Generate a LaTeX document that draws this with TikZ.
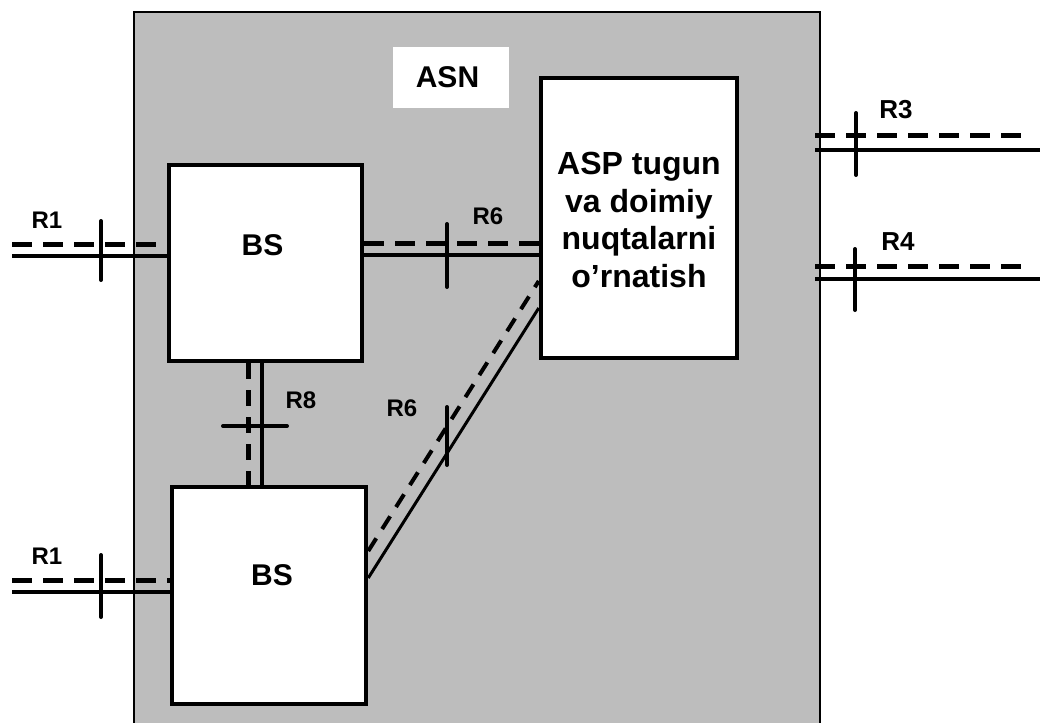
\documentclass[tikz,border=0pt]{standalone}
\usepackage{fontspec}
\setmainfont{Liberation Sans}
\definecolor{asngray}{RGB}{189,189,189}
\begin{document}
\begin{tikzpicture}[x=1pt,y=-1pt,
  box/.style={draw, line width=4.5pt, fill=white, inner sep=0pt},
  bigtxt/.style={font=\bfseries\fontsize{30}{34}\selectfont, inner sep=0pt},
  asptxt/.style={font=\bfseries\fontsize{32}{37.5}\selectfont, inner sep=0pt, align=center},
  rlbl/.style={font=\bfseries\fontsize{24}{28}\selectfont, inner sep=0pt},
  rlblb/.style={font=\bfseries\fontsize{26}{30}\selectfont, inner sep=0pt},
  solidln/.style={line width=3.5pt},
  dashln/.style={line width=5pt, dash pattern=on 20pt off 11pt},
  thinsolid/.style={line width=3pt},
  thindash/.style={line width=4pt, dash pattern=on 15pt off 11pt},
  tickln/.style={line width=4pt, line cap=round}]
\useasboundingbox (0,0) rectangle (1040,722);
% ASN area
\path[fill=asngray, draw=black, line width=2pt] (134,12) rectangle (820,740);
\node[fill=white, minimum width=116pt, minimum height=61pt, inner sep=0pt] (asnbox) at (451,77.5) {};
\node[bigtxt] (asntxt) at (447.5,77) {ASN};
% boxes
\node[box, minimum width=193pt, minimum height=196pt] (bs1) at (265.5,263) {};
\node[box, minimum width=194pt, minimum height=217pt] (bs2) at (269,595.5) {};
\node[box, minimum width=196pt, minimum height=280pt] (asp) at (639,218) {};
\node[bigtxt] (bs1txt) at (262.5,245) {BS};
\node[bigtxt] (bs2txt) at (272,575) {BS};
\node[asptxt] (asptxt) at (639,220) {ASP tugun\\va doimiy\\nuqtalarni\\o’rnatish};
% R1 upper
\coordinate (r1ad) at (12,244);
\coordinate (r1as) at (12,256);
\draw[dashln] (r1ad) -- (r1ad -| bs1.west);
\draw[solidln] (r1as) -- (r1as -| bs1.west);
\draw[tickln] (101,221) -- (101,280);
\node[rlbl] (r1alb) at (47,220) {R1};
% R1 lower
\coordinate (r1bd) at (12,580);
\coordinate (r1bs) at (12,592);
\draw[dashln] (r1bd) -- (r1bd -| bs2.west);
\draw[solidln] (r1bs) -- (r1bs -| bs2.west);
\draw[tickln] (101,555) -- (101,617);
\node[rlbl] (r1blb) at (47,556) {R1};
% R6 horizontal
\coordinate (r6d) at (bs1.east |- 0,243);
\coordinate (r6s) at (bs1.east |- 0,255);
\draw[dashln] (r6d) -- (r6d -| asp.west);
\draw[solidln] (r6s) -- (r6s -| asp.west);
\draw[tickln] (447,224) -- (447,287);
\node[rlbl] (r6hlb) at (488,216) {R6};
% R8 vertical
\coordinate (r8d) at (bs1.south -| 248,0);
\coordinate (r8s) at (bs1.south -| 262,0);
\draw[dashln, dash pattern=on 16pt off 11pt] (r8d) -- (r8d |- bs2.north);
\draw[solidln] (r8s) -- (r8s |- bs2.north);
\draw[tickln] (223,426) -- (287,426);
\node[rlbl] (r8lb) at (301,400) {R8};
% R6 diagonal
\coordinate (dgs1) at (bs2.east |- 0,578);
\coordinate (dgs2) at (asp.west |- 0,308);
\coordinate (dgd1) at (bs2.east |- 0,551);
\coordinate (dgd2) at (asp.west |- 0,281);
\draw[thindash] (dgd1) -- (dgd2);
\draw[thinsolid] (dgs1) -- (dgs2);
\draw[tickln] (447,407) -- (447,465);
\node[rlbl] (r6dlb) at (402,408) {R6};
% R3
\coordinate (r3d) at (815,136);
\coordinate (r3s) at (815,150);
\draw[dashln] (r3d) -- (1022,136);
\draw[solidln] (r3s) -- (1040,150);
\draw[tickln] (856,113) -- (856,175);
\node[rlblb] (r3lb) at (896,110) {R3};
% R4
\coordinate (r4d) at (815,266);
\coordinate (r4s) at (815,279);
\draw[dashln] (r4d) -- (1022,266);
\draw[solidln] (r4s) -- (1040,279);
\draw[tickln] (855,249) -- (855,310);
\node[rlblb] (r4lb) at (898,242) {R4};
\end{tikzpicture}
\end{document}
